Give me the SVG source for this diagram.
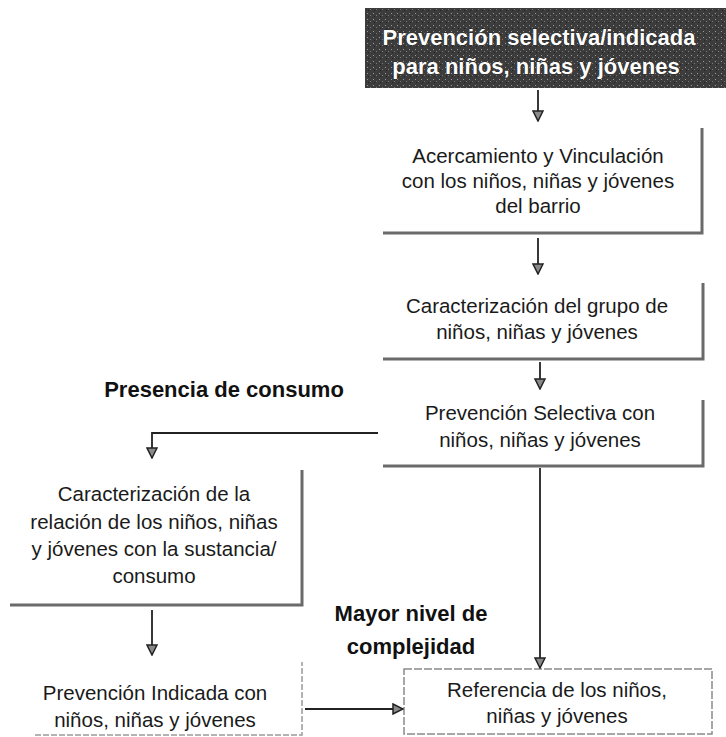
<svg xmlns="http://www.w3.org/2000/svg" width="726" height="737" viewBox="0 0 726 737">
<defs>
<style>
.t{font-family:"Liberation Sans",Arial,sans-serif;font-size:20.5px;fill:#1a1a1a;text-anchor:middle}
.b{font-family:"Liberation Sans",Arial,sans-serif;font-size:22px;font-weight:bold;fill:#111;text-anchor:middle}
.w{font-family:"Liberation Sans",Arial,sans-serif;font-size:22px;font-weight:bold;fill:#fff;text-anchor:middle;stroke:#111;stroke-width:0.6;paint-order:stroke}
.sh{fill:none;stroke:#6a6a6a;stroke-width:3}
.lt{fill:none;stroke:#9a9a9a;stroke-width:1.5;stroke-dasharray:6 2}
.c{fill:none;stroke:#222;stroke-width:1.8}
</style>
<marker id="ah" markerWidth="12" markerHeight="12" refX="11" refY="6" orient="auto" markerUnits="userSpaceOnUse">
<path d="M1,1 L11,6 L1,11 Z" fill="#8a8a8a" stroke="#222" stroke-width="1.5"/>
</marker>
<pattern id="noise" width="6" height="6" patternUnits="userSpaceOnUse">
<rect width="6" height="6" fill="#3c3c3c"/>
<rect x="1" y="1" width="1" height="1" fill="#9a9a9a"/>
<rect x="4" y="3" width="1" height="1" fill="#7a7a7a"/>
<rect x="2" y="4" width="1" height="1" fill="#222"/>
</pattern>
</defs>
<g id="n1">
<rect x="365" y="8" width="361" height="80" fill="url(#noise)"/>
<text class="w" x="539" y="45">Prevención selectiva/indicada</text>
<text class="w" x="536" y="74">para niños, niñas y jóvenes</text>
</g>
<g id="n2">
<polyline class="sh" points="383,233 702,233 702,128"/>
<text class="t" x="538" y="163">Acercamiento y Vinculación</text>
<text class="t" x="538" y="188">con los niños, niñas y jóvenes</text>
<text class="t" x="538" y="213">del barrio</text>
</g>
<g id="n3">
<polyline class="sh" points="383,359 703,359 703,283"/>
<text class="t" x="537" y="313">Caracterización del grupo de</text>
<text class="t" x="537" y="339">niños, niñas y jóvenes</text>
</g>
<g id="n4">
<polyline class="sh" points="383,466 703,466 703,400"/>
<text class="t" x="540" y="420">Prevención Selectiva con</text>
<text class="t" x="540" y="447">niños, niñas y jóvenes</text>
</g>
<g id="n5">
<polyline class="sh" points="10,605 302,605 302,470"/>
<text class="t" x="154" y="501">Caracterización de la</text>
<text class="t" x="154" y="529">relación de los niños, niñas</text>
<text class="t" x="154" y="556">y jóvenes con la sustancia/</text>
<text class="t" x="154" y="583">consumo</text>
</g>
<g id="n6">
<polyline class="lt" points="35,735 302,735 302,662"/>
<text class="t" x="155" y="700">Prevención Indicada con</text>
<text class="t" x="155" y="727">niños, niñas y jóvenes</text>
</g>
<g id="n7">
<rect x="404" y="669" width="308" height="65" fill="none" stroke="#8a8a8a" stroke-width="1.5" stroke-dasharray="8 2"/>
<text class="t" x="557" y="697">Referencia de los niños,</text>
<text class="t" x="557" y="723">niñas y jóvenes</text>
</g>
<g id="labels">
<text class="b" x="224" y="397">Presencia de consumo</text>
<text class="b" x="411" y="621">Mayor nivel de</text>
<text class="b" x="411" y="654">complejidad</text>
</g>
<g id="connectors">
<line class="c" x1="538" y1="90" x2="538" y2="121" marker-end="url(#ah)"/>
<line class="c" x1="538" y1="238" x2="538" y2="274" marker-end="url(#ah)"/>
<line class="c" x1="540" y1="362" x2="540" y2="389" marker-end="url(#ah)"/>
<polyline class="c" points="378,433 152,433 152,458" marker-end="url(#ah)"/>
<line class="c" x1="152" y1="610" x2="152" y2="655" marker-end="url(#ah)"/>
<line class="c" x1="540" y1="468" x2="540" y2="668" marker-end="url(#ah)"/>
<line class="c" x1="305" y1="709" x2="403" y2="709" marker-end="url(#ah)"/>
</g>
</svg>
